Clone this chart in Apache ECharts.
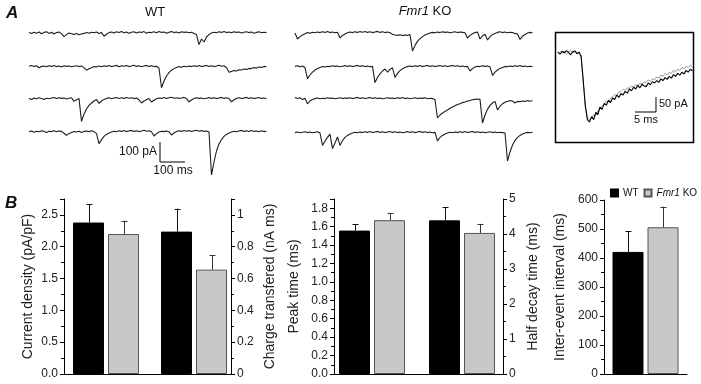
<!DOCTYPE html>
<html><head><meta charset="utf-8">
<script src="https://cdn.jsdelivr.net/npm/echarts@6/dist/echarts.min.js"></script>
<style>html,body{margin:0;padding:0;background:#fff}#c{width:701px;height:384px}</style>
</head><body><div id="c"></div>
<script>
// ---------- Panel A: example traces (pA), sampled every 10 ms ----------
const traceStepMs = 10;
const wtRow1 = [2,-3,4,-1,5,-4,3,6,-2,4,-5,2,5,-3,-18,-8,0,-4,-7,-3,-9,-5,-2,3,-1,4,1,5,-2,3,-16,-6,2,5,0,6,2,7,1,5,-1,4,6,0,5,3,7,-1,4,2,6,1,8,3,5,-1,4,7,2,5,0,6,3,5,1,4,-2,-8,-58,-30,-45,-20,-8,0,4,1,6,3,7,2,5,1,6,3,5,0,4,6,2,5,-1,3,6,1,4,2];
const wtRow2 = [4,8,3,6,-4,2,5,1,6,3,7,2,5,0,6,3,5,1,4,6,2,5,-3,-16,-9,-4,2,0,5,1,6,3,7,2,5,8,1,6,4,7,2,5,9,3,6,1,5,8,3,6,2,4,-6,-104,-70,-45,-28,-16,-8,-3,2,-1,4,1,5,2,6,3,7,2,5,8,3,6,2,5,9,4,6,-4,-26,-22,-18,-20,-14,-15,-10,-12,-7,-8,-3,-5,0,-2,3,1];
const wtRow3 = [3,-2,5,1,6,2,-3,4,1,5,7,2,6,3,5,0,4,6,-12,-4,2,-112,-75,-50,-32,-20,-10,-3,-22,-10,-2,3,6,1,5,7,2,6,3,8,4,6,2,5,-4,-20,-10,-4,2,-15,-6,1,5,3,7,2,6,9,4,6,3,5,8,2,-14,-5,2,6,3,5,1,4,7,3,6,2,5,8,3,6,2,-14,-4,3,6,2,5,8,3,6,2,5,7,3,5,1];
const wtRow4 = [2,5,-1,4,1,6,3,-2,4,2,6,1,5,3,-6,-16,-8,-3,2,0,4,-2,3,5,1,6,2,-8,-58,-38,-22,-12,-5,0,4,1,6,3,7,2,5,8,3,6,2,5,9,4,6,1,-20,-8,0,4,2,5,1,-15,-5,2,6,3,8,4,7,2,6,9,4,7,3,5,0,-215,-150,-95,-60,-38,-22,-12,-5,0,4,1,5,8,3,6,2,7,3,5,1,6,2,4];
const koRow1 = [0,-30,-18,-10,-4,2,-1,4,1,5,2,6,3,7,2,5,1,4,-24,-12,-5,1,5,2,6,3,7,4,8,3,6,2,5,8,3,6,2,5,1,-6,-10,-12,-9,-13,-10,-12,-8,-90,-62,-42,-28,-18,-10,-5,0,3,1,5,2,6,3,5,1,4,6,2,5,3,1,-26,-12,-4,2,5,-30,-14,-6,-35,-18,-8,-2,3,6,2,5,1,4,2,-2,-5,-32,-16,-7,0,3,1];
const koRow2 = [3,6,1,5,-4,-58,-40,-26,-15,-8,-3,2,0,4,2,6,3,5,1,4,7,3,6,2,5,8,3,6,2,5,1,3,-78,-52,-34,-20,-10,-26,-12,-4,-52,-32,-18,-9,-3,2,5,2,6,3,7,2,5,8,3,6,2,5,7,3,6,2,5,8,4,6,2,5,1,3,-20,-8,0,4,2,6,3,5,1,-42,-26,-15,-7,-2,3,1,5,2,6,3,7,2,5,1,4,2];
const koRow3 = [8,2,6,-3,4,-24,-10,-3,2,5,1,4,2,6,3,5,1,4,6,2,5,3,6,2,5,8,3,6,2,5,7,3,6,2,5,1,4,6,3,5,2,6,3,7,2,5,1,4,6,2,5,3,6,1,4,2,-4,-95,-80,-70,-62,-55,-46,-40,-34,-28,-24,-18,-15,-10,-8,-4,-2,0,-2,-120,-80,-52,-32,-20,-12,-55,-36,-24,-16,-12,-8,-10,-20,-12,-14,-10,-12,-8,-11,-9];
const koRow4 = [2,5,1,4,6,2,5,1,4,6,0,-62,-40,-22,-6,-78,-50,-20,-62,-38,-22,-12,-5,0,4,1,5,2,6,3,7,2,5,8,3,6,2,5,7,3,6,2,5,1,4,7,3,6,2,5,8,3,6,2,5,1,3,-40,-22,-12,-5,0,4,1,5,2,6,3,7,2,5,8,3,6,2,5,1,4,6,2,5,1,4,2,0,-140,-95,-60,-38,-22,-12,-5,0,3,1,4];
// scale bar: 100 pA / 100 ms
const scaleBarA = [[524,-50],[524,-150],[624,-150]];

// Inset: averaged events (pA), sampled every 0.5 ms
const insetStepMs = 0.5;
const insetWT = [3,-4,6,0,8,2,-6,4,7,-2,3,-10,-90,-175,-222,-230,-212,-222,-198,-205,-180,-188,-168,-174,-158,-165,-150,-155,-140,-148,-135,-140,-128,-134,-120,-126,-114,-120,-108,-116,-104,-110,-112,-100,-106,-96,-100,-92,-98,-86,-92,-82,-88,-78,-84,-72,-78,-68,-74,-64,-70,-58,-64,-54,-60];
const insetKO = [-2,5,1,7,-3,4,8,0,5,2,-4,-14,-95,-180,-215,-222,-218,-205,-210,-192,-184,-176,-170,-160,-163,-150,-146,-138,-142,-130,-128,-121,-124,-116,-118,-110,-113,-105,-108,-100,-103,-96,-99,-90,-94,-86,-89,-80,-84,-74,-78,-68,-73,-64,-68,-58,-62,-54,-58,-48,-53,-44,-49,-40,-46];
const scaleBarInset = [[18.33,-196.7],[23.33,-196.7],[23.33,-146.7]];

// ---------- Panel B: means and SEM ----------
const groups = ['WT', 'Fmr1 KO'];
const currentDensity = [2.38, 2.20];      const currentDensitySem = [0.29, 0.21];
const chargeTransfer = [0.895, 0.656];    const chargeTransferSem = [0.145, 0.089];
const peakTime = [1.557, 1.67];           const peakTimeSem = [0.069, 0.077];
const halfDecay = [4.39, 4.03];           const halfDecaySem = [0.37, 0.26];
const interEvent = [421, 506];            const interEventSem = [72, 71];

const FONT = 'Liberation Sans';
const grids = [], xAxes = [], yAxes = [], series = [];

function addTraceGrid(left, width, top, height, xmax, ymin, ymax) {
  const gi = grids.length;
  grids.push({left, top, width, height, containLabel: false});
  xAxes.push({gridIndex: gi, type: 'value', min: 0, max: xmax, show: false});
  yAxes.push({gridIndex: gi, type: 'value', min: ymin, max: ymax, show: false});
  return gi;
}
function traceSeries(gi, arr, step, color, width) {
  series.push({type: 'line', xAxisIndex: gi, yAxisIndex: gi, symbol: 'none', silent: true,
    data: arr.map((v, i) => [i * step, v]), lineStyle: {color, width}, animation: false});
}
const wtRows = [wtRow1, wtRow2, wtRow3, wtRow4];
const koRows = [koRow1, koRow2, koRow3, koRow4];
const wtBase = [33, 67, 99, 132];
const koBase = [33, 67, 99, 133];
const wtGrids = [];
wtRows.forEach((r, k) => { const gi = addTraceGrid(29, 240, wtBase[k] - 8, 56, 960, -240, 40); wtGrids.push(gi); traceSeries(gi, r, traceStepMs, '#1e1e1e', 1.1); });
koRows.forEach((r, k) => { const gi = addTraceGrid(295, 240, koBase[k] - 8, 56, 960, -240, 40); traceSeries(gi, r, traceStepMs, '#1e1e1e', 1.1); });
series.push({type: 'line', xAxisIndex: wtGrids[3], yAxisIndex: wtGrids[3], symbol: 'none', data: scaleBarA, lineStyle: {color: '#000', width: 1}, animation: false});

const insetG = addTraceGrid(558, 134.4, 44, 87, 32, -260, 30);
traceSeries(insetG, insetKO, insetStepMs, '#9a9a9a', 1);
traceSeries(insetG, insetWT, insetStepMs, '#000', 1.1);
series.push({type: 'line', xAxisIndex: insetG, yAxisIndex: insetG, symbol: 'none', data: scaleBarInset, lineStyle: {color: '#000', width: 1}, animation: false});

// ---------- bar grids ----------
const axisTextStyle = {color: '#222', fontSize: 12, fontFamily: FONT};
function yAxisCfg(gi, pos, max, interval, name, nameGap, fmt, showMax) {
  return {gridIndex: gi, type: 'value', position: pos, min: 0, max, interval,
    name, nameLocation: 'middle', nameGap, nameRotate: 90,
    nameTextStyle: {color: '#222', fontSize: 14, fontFamily: FONT},
    axisLine: {show: true, lineStyle: {color: '#000', width: 1}},
    axisTick: {show: true, length: 4, lineStyle: {color: '#000'}},
    minorTick: {show: true, splitNumber: 2, length: 3, lineStyle: {color: '#000'}},
    splitLine: {show: false}, minorSplitLine: {show: false},
    axisLabel: Object.assign({margin: 6, showMaxLabel: showMax, formatter: fmt}, axisTextStyle)};
}
function barGrid(left, width, top, height, showLine) {
  const gi = grids.length;
  grids.push({left, top, width, height});
  xAxes.push({gridIndex: gi, type: 'category', data: [''],
    axisLine: {show: showLine, lineStyle: {color: '#000', width: 1}}, axisTick: {show: false}, axisLabel: {show: false}});
  return gi;
}
function lineGrid(left, width, top, height) {
  const gi = grids.length;
  grids.push({left, top, width, height});
  xAxes.push({gridIndex: gi, type: 'category', data: [''], axisLine: {show: true, lineStyle: {color: '#000', width: 1}}, axisTick: {show: false}, axisLabel: {show: false}});
  yAxes.push({gridIndex: gi, type: 'value', show: false});
}
const BW = 31, GAP = 4, OFF = (BW + GAP) / 2;
function errRender(off, color) {
  return function (params, api) {
    const x = api.value(0), m = api.value(1), s = api.value(2);
    const p0 = api.coord([x, m]), p1 = api.coord([x, m + s]);
    const cx = Math.round(p0[0] + off) + 0.5;
    return {type: 'group', children: [
      {type: 'line', shape: {x1: cx, y1: p0[1], x2: cx, y2: p1[1]}, style: {stroke: color, lineWidth: 1}},
      {type: 'line', shape: {x1: cx - 3, y1: Math.round(p1[1]) + 0.5, x2: cx + 3, y2: Math.round(p1[1]) + 0.5}, style: {stroke: color, lineWidth: 1}}
    ]};
  };
}
function addBars(gi, vals, sems) {
  series.push({type: 'bar', name: groups[0], xAxisIndex: gi, yAxisIndex: gi, data: [vals[0]], barWidth: BW, barGap: (GAP / BW * 100) + '%',
    itemStyle: {color: '#000', borderColor: '#000', borderWidth: 1}, animation: false, z: 2});
  series.push({type: 'bar', name: groups[1], xAxisIndex: gi, yAxisIndex: gi, data: [vals[1]], barWidth: BW, barGap: (GAP / BW * 100) + '%',
    itemStyle: {color: '#c8c8c8', borderColor: '#555', borderWidth: 1}, animation: false, z: 2});
  series.push({type: 'custom', xAxisIndex: gi, yAxisIndex: gi, data: [[0, vals[0], sems[0]]], renderItem: errRender(-OFF, '#111'), z: 3, animation: false, silent: true});
  series.push({type: 'custom', xAxisIndex: gi, yAxisIndex: gi, data: [[0, vals[1], sems[1]]], renderItem: errRender(OFF, '#333'), z: 3, animation: false, silent: true});
}
const f1 = v => v.toFixed(1);
// Panel B1
let g = barGrid(64, 84, 199, 175, false);
yAxes.push(yAxisCfg(g, 'left', 2.75, 0.5, 'Current density (pA/pF)', 29, f1, false));
addBars(g, currentDensity, currentDensitySem);
g = barGrid(157, 74, 199, 175, false);
yAxes.push(yAxisCfg(g, 'right', 1.1, 0.2, 'Charge transfered (nA ms)', 32, null, false));
addBars(g, chargeTransfer, chargeTransferSem);
lineGrid(64, 167, 199, 175);
// Panel B2
g = barGrid(334, 76, 199, 175, false);
yAxes.push(yAxisCfg(g, 'left', 1.9, 0.2, 'Peak time (ms)', 33, f1, false));
addBars(g, peakTime, peakTimeSem);
g = barGrid(421, 82, 199, 175, false);
yAxes.push(yAxisCfg(g, 'right', 5, 1, 'Half decay time (ms)', 23, null, true));
addBars(g, halfDecay, halfDecaySem);
lineGrid(334, 169, 199, 175);
// Panel B3
g = barGrid(604, 83, 200, 174, true);
yAxes.push(yAxisCfg(g, 'left', 600, 100, 'Inter-event interval (ms)', 37, null, true));
addBars(g, interEvent, interEventSem);

const txt = (x, y, text, opts) => ({type: 'text', x, y, style: Object.assign({text, fill: '#111', font: '12px ' + FONT, textAlign: 'left', textVerticalAlign: 'middle'}, opts || {})});

const option = {
  animation: false,
  grid: grids, xAxis: xAxes, yAxis: yAxes, series,
  legend: {orient: 'horizontal', left: 610, top: 188, padding: 0, itemWidth: 7, itemHeight: 7, itemGap: 5, icon: 'rect', selectedMode: false,
    data: groups,
    textStyle: {fontSize: 10, color: '#111', fontFamily: FONT, rich: {i: {fontStyle: 'italic', fontSize: 10, fontFamily: FONT}}},
    formatter: n => n === 'Fmr1 KO' ? '{i|Fmr1} KO' : n},
  graphic: [
    txt(6, 13, 'A', {font: 'italic bold 17px ' + FONT}),
    txt(155, 12, 'WT', {textAlign: 'center', font: '13px ' + FONT}),
    {type: 'text', x: 425, y: 11, style: {text: '{i|Fmr1} KO', textAlign: 'center', textVerticalAlign: 'middle', font: '13px ' + FONT, fill: '#111',
      rich: {i: {fontStyle: 'italic', fontSize: 13, fontFamily: FONT}}}},
    txt(157, 152, '100 pA', {textAlign: 'right'}),
    txt(173, 171, '100 ms', {textAlign: 'center'}),
    txt(659, 104, '50 pA', {font: '11px ' + FONT}),
    txt(646, 120, '5 ms', {textAlign: 'center', font: '11px ' + FONT}),
    {type: 'rect', shape: {x: 555.5, y: 32.5, width: 138, height: 110}, style: {fill: 'none', stroke: '#000', lineWidth: 1.5}},
    txt(5, 203, 'B', {font: 'italic bold 17px ' + FONT})
  ]
};
const chart = echarts.init(document.getElementById('c'), null, {renderer: 'canvas'});
chart.setOption(option);
</script></body></html>
